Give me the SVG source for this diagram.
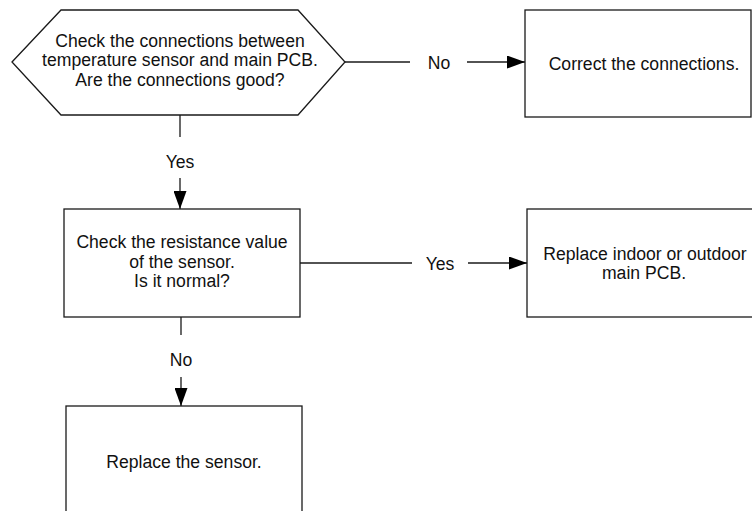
<svg xmlns="http://www.w3.org/2000/svg" width="752" height="511" viewBox="0 0 752 511">
<style>
.shape{fill:#fff;stroke:#1a1a1a;stroke-width:1.3}
.conn{fill:none;stroke:#1a1a1a;stroke-width:1.3}
text{font-family:"Liberation Sans",Arial,sans-serif;font-size:17.6px;fill:#111;text-anchor:middle}
</style>
<defs>
<marker id="arr" viewBox="0 0 18 13" refX="18" refY="6.5" markerWidth="18" markerHeight="13" markerUnits="userSpaceOnUse" orient="auto">
<path d="M0,0 L18,6.5 L0,13 Z" fill="#000"/>
</marker>
</defs>
<rect width="752" height="511" fill="#fff"/>
<g id="connectors">
<line class="conn" x1="345" y1="62" x2="410" y2="62"/>
<line class="conn" x1="467" y1="62" x2="525" y2="62" marker-end="url(#arr)"/>
<text x="439" y="69">No</text>
<line class="conn" x1="180" y1="115" x2="180" y2="137"/>
<line class="conn" x1="180" y1="178" x2="180" y2="209" marker-end="url(#arr)"/>
<text x="180" y="168">Yes</text>
<line class="conn" x1="300" y1="263" x2="412" y2="263"/>
<line class="conn" x1="468" y1="263" x2="527" y2="263" marker-end="url(#arr)"/>
<text x="440" y="270">Yes</text>
<line class="conn" x1="181" y1="317" x2="181" y2="335"/>
<line class="conn" x1="181" y1="377" x2="181" y2="406" marker-end="url(#arr)"/>
<text x="181" y="366">No</text>
</g>
<g id="check-connections">
<polygon class="shape" points="12,62 61,10 298,10 345,62 298,115 61,115"/>
<text x="180" y="46.5">Check the connections between</text>
<text x="180" y="66">temperature sensor and main PCB.</text>
<text x="180" y="85.5">Are the connections good?</text>
</g>
<g id="correct-connections">
<rect class="shape" x="525" y="10" width="226" height="107"/>
<text x="644" y="70">Correct the connections.</text>
</g>
<g id="check-resistance">
<rect class="shape" x="64" y="209" width="236" height="108"/>
<text x="182" y="248">Check the resistance value</text>
<text x="182" y="268">of the sensor.</text>
<text x="182" y="287">Is it normal?</text>
</g>
<g id="replace-pcb">
<rect class="shape" x="527" y="209" width="240" height="108"/>
<text x="645" y="260">Replace indoor or outdoor</text>
<text x="644" y="279">main PCB.</text>
</g>
<g id="replace-sensor">
<rect class="shape" x="66" y="406" width="236" height="120"/>
<text x="184" y="468">Replace the sensor.</text>
</g>
</svg>
